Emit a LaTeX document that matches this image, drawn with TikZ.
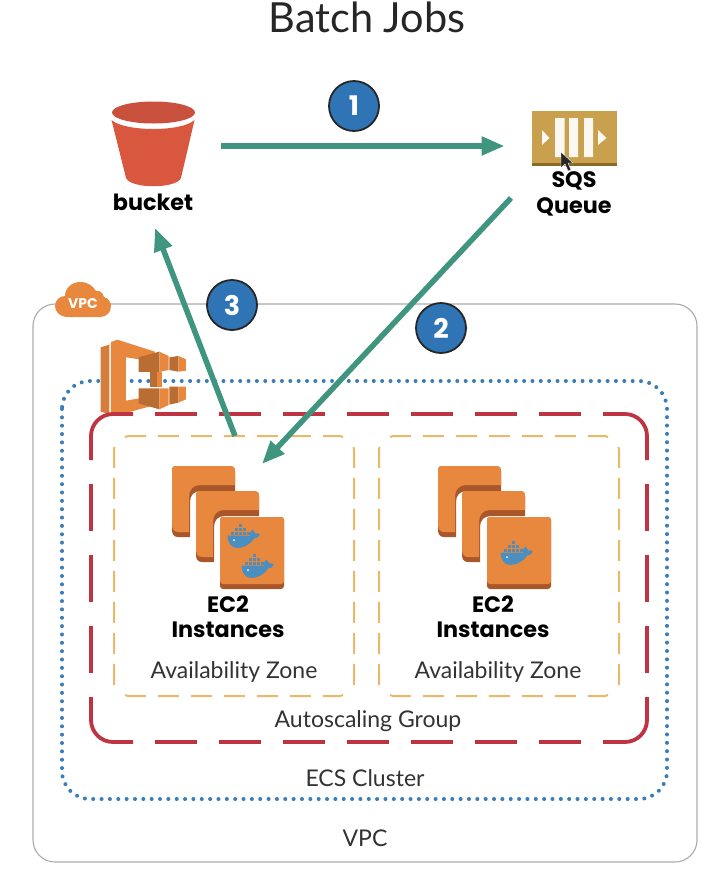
\documentclass[tikz,border=0pt]{standalone}
\usepackage{fontspec}
\setmainfont{Lato}
\newfontfamily\boldlab{Poppins}[UprightFont=* Bold]
\usetikzlibrary{arrows.meta,calc}
\definecolor{flow}{HTML}{3F9580}
\definecolor{numblue}{HTML}{2F75B5}
\definecolor{dotblue}{HTML}{3A7DB8}
\definecolor{asgred}{HTML}{BE3442}
\definecolor{azgold}{HTML}{E9B868}
\definecolor{ec2or}{HTML}{E8883F}
\definecolor{ec2dk}{HTML}{A8562A}
\definecolor{sqsgold}{HTML}{C9A14E}
\definecolor{sqsdk}{HTML}{8A6A25}
\definecolor{bkt}{HTML}{D9573F}
\definecolor{bktdk}{HTML}{C8503D}
\definecolor{whale}{HTML}{4A8FC0}
\definecolor{graybox}{HTML}{ABABAB}
\tikzset{
  vpcbox/.style={draw=graybox,line width=1.1pt,rounded corners=22pt},
  clusterbox/.style={draw=dotblue,line width=4pt,line cap=round,dash pattern=on 0pt off 8.35pt,rounded corners=28pt},
  asgedge/.style={draw=asgred,line width=3.8pt},
  asgcorner/.style={asgedge,rounded corners=22pt},
  asghoriz/.style={asgedge,dash pattern=on 42pt off 22pt},
  asgvert/.style={asgedge,dash pattern=on 47pt off 24pt},
  azhoriz/.style={draw=azgold,line width=2pt,dash pattern=on 21pt off 12pt},
  azvert/.style={draw=azgold,line width=2pt,dash pattern=on 21pt off 10pt},
  flowarrow/.style={draw=flow,line width=5.5pt,-{Triangle[length=23pt,width=18pt]}},
  numcircle/.style={circle,draw=black!85,line width=1.8pt,fill=numblue,minimum size=50pt,inner sep=0pt,text=white,font=\boldlab\fontsize{27}{27}\selectfont},
  boldtext/.style={font=\boldlab\fontsize{22.3}{22.3}\selectfont,text=black,inner sep=0pt},
  plaintext/.style={font=\fontsize{23}{23}\selectfont,text=black!80,inner sep=0pt},
  titletext/.style={font=\fontsize{41.5}{41.5}\selectfont,text=black!85,inner sep=0pt},
  iconspot/.style={inner sep=0pt,minimum size=0pt}
}
% Availability Zone frame, #1 = horizontal offset
\newcommand{\azframe}[1]{%
  \begin{scope}[shift={(#1,0)}]
    \draw[azhoriz] (125,437) -- (128,436) -- (340,436) -- (343,437);
    \draw[azhoriz] (125,695) -- (128,696) -- (340,696) -- (343,695);
    \draw[azvert] (114.5,447) -- (114,450) -- (114,682) .. controls (114,686) and (115,689) .. (118,692);
    \draw[azvert] (353.5,447) -- (354,450) -- (354,682) .. controls (354,686) and (353,689) .. (350,692);
  \end{scope}
}
% L-shaped back card, origin at its top left corner
\newcommand{\backcard}[2]{%
  \fill[ec2dk] (#1+4,#2) -- (#1+59,#2) .. controls (#1+62,#2) and (#1+63,#2+2) .. (#1+63,#2+5) -- (#1+63,#2+25) -- (#1+29,#2+25) .. controls (#1+22,#2+25) and (#1+18,#2+29) .. (#1+18,#2+36) -- (#1+18,#2+71) -- (#1+6,#2+71) .. controls (#1+2,#2+71) and (#1,#2+68) .. (#1,#2+64) -- (#1,#2+4) .. controls (#1,#2+1) and (#1+1,#2) .. (#1+4,#2) -- cycle;
  \fill[ec2or] (#1+4,#2) -- (#1+59,#2) .. controls (#1+62,#2) and (#1+63,#2+2) .. (#1+63,#2+5) -- (#1+63,#2+19) -- (#1+28,#2+19) .. controls (#1+21,#2+19) and (#1+17,#2+24) .. (#1+17,#2+31) -- (#1+17,#2+66) -- (#1+6,#2+66) .. controls (#1+2,#2+66) and (#1,#2+63) .. (#1,#2+60) -- (#1,#2+4) .. controls (#1,#2+1) and (#1+1,#2) .. (#1+4,#2) -- cycle;
}
% front card, origin at its top left corner
\newcommand{\frontcard}[2]{%
  \fill[ec2dk,rounded corners=3pt] (#1,#2) rectangle (#1+64,#2+72);
  \fill[ec2or,rounded corners=3pt] (#1,#2) rectangle (#1+64,#2+67);
}
% docker whale, origin at top left of a 33x25 box
\newcommand{\dockerwhale}[2]{%
  \begin{scope}[shift={(#1,#2)}]
    \fill[whale] (0.5,12.5) -- (23,12.5) .. controls (22.5,10) and (23.5,8) .. (25.5,6.5) .. controls (27,8) and (28,9.5) .. (28,10.5) .. controls (30,10) and (32,10.5) .. (33,11.5) .. controls (32,14) and (29.5,15.5) .. (27,15.5) .. controls (23,22) and (16,25) .. (10,25) .. controls (4,25) and (0.5,19) .. (0.5,12.5) -- cycle;
    \foreach \cx/\cy in {4/8.6,8/8.6,12/8.6,16/8.6,20/8.6,8/4.6,12/4.6,16/4.6,12/0.6}
      \fill[whale!70!gray] (\cx,\cy) rectangle ++(3.3,3.3);
    \fill[white] (7,17) circle[radius=1pt];
  \end{scope}
}
\begin{document}
\begin{tikzpicture}[x=1pt,y=-1pt]
\useasboundingbox (0,0) rectangle (722,892);
\fill[white] (0,0) rectangle (722,892);

% title
\node[titletext] (title) at (367,17) {Batch Jobs};

% outer frames
\draw[vpcbox] (33,304) rectangle (697,862);
\draw[clusterbox] (62,381) rectangle (667,799);

% VPC cloud
\fill[ec2or] (68,317) .. controls (60,317) and (55,312) .. (55,306) .. controls (55,300) and (60,296) .. (65,296) .. controls (65,288) and (72,282) .. (80,282) .. controls (88,282) and (93,286) .. (96,291) .. controls (100,290) and (103,293) .. (104,297) .. controls (108,298) and (111,302) .. (111,306) .. controls (111,312) and (107,317) .. (100,317) -- cycle;
\node[font=\boldlab\fontsize{14}{14}\selectfont,text=white,inner sep=0pt] (vpctag) at (83,304) {VPC};

% ECS icon
\begin{scope}[shift={(40,270)},x=0.3333pt,y=-0.3333pt]
  \fill[ec2or!92!black] (182,232) -- (208,224) -- (208,432) -- (182,425) -- cycle;
  \fill[ec2or] (213,216) -- (232,209) -- (345,245) -- (345,262) -- (298,268) -- (258,262) -- (258,392) -- (298,385) -- (345,400) -- (345,405) -- (232,436) -- (213,430) -- cycle;
  \fill[ec2or!80!black] (296,262) -- (358,245) -- (358,306) -- (296,306) -- cycle;
  \fill[ec2or] (358,245) -- (386,258) -- (386,300) -- (358,306) -- cycle;
  \fill[ec2or!80!black] (388,262) -- (415,258) -- (415,305) -- (388,300) -- cycle;
  \fill[ec2or] (415,258) -- (438,268) -- (438,302) -- (415,305) -- cycle;
  \fill[ec2or!80!black] (330,306) -- (350,306) -- (350,350) -- (330,350) -- cycle;
  \fill[ec2or] (350,306) -- (366,306) -- (366,350) -- (350,350) -- cycle;
  \fill[ec2or!80!black] (296,355) -- (358,355) -- (358,418) -- (296,400) -- cycle;
  \fill[ec2or] (358,355) -- (386,355) -- (386,405) -- (358,418) -- cycle;
  \fill[ec2or!80!black] (388,350) -- (415,350) -- (415,398) -- (388,404) -- cycle;
  \fill[ec2or] (415,350) -- (438,350) -- (438,388) -- (415,398) -- cycle;
\end{scope}

% Autoscaling Group frame
\draw[asgcorner] (133,414) -- (91,414) -- (91,460);
\draw[asgcorner] (603,414) -- (647,414) -- (647,460);
\draw[asgcorner] (133,742) -- (91,742) -- (91,697);
\draw[asgcorner] (603,742) -- (647,742) -- (647,697);
\draw[asghoriz] (155,414) -- (582,414);
\draw[asghoriz] (155,742) -- (582,742);
\draw[asgvert] (91,484) -- (91,673);
\draw[asgvert] (647,484) -- (647,673);

% Availability Zone frames
\azframe{0}
\azframe{265}

% bucket icon
\fill[bkt] (111.5,120) .. controls (125,132) and (182,132) .. (194.5,120) -- (181,178) .. controls (176,189) and (131,189) .. (126,178) -- cycle;
\draw[white,line width=2pt] (111,118) .. controls (125,129) and (181,129) .. (195,118);
\fill[bktdk] (153.5,112.5) ellipse[x radius=41.5pt,y radius=11pt];
\node[iconspot] (bucketicon) at (153,146) {};
\node[boldtext] (bucketlab) at (153,202) {bucket};

% SQS icon
\fill[sqsgold] (532,111) rectangle (617,166);
\fill[sqsdk] (532,163) rectangle (617,166);
\fill[white!92!sqsgold] (555,118) rectangle (564.5,157) (569,118) rectangle (578,157) (584,118) rectangle (593,157);
\fill[white!92!sqsgold] (542,130) -- (549.5,138) -- (542,145) -- cycle (598,130) -- (606.5,138) -- (598,145) -- cycle;
\node[iconspot] (sqsicon) at (574.5,138) {};
\node[boldtext] (sqslab1) at (574,181) {SQS};
\node[boldtext] (sqslab2) at (574,207) {Queue};
% mouse pointer
\fill[black!85,draw=white,line width=0.4pt] (561,152) -- (561,168) -- (565,164) -- (568,171) -- (571,170) -- (568,163) -- (573,163) -- cycle;

% EC2 stacks
\backcard{172}{466}
\backcard{196}{491}
\frontcard{220}{517}
\dockerwhale{227}{523}
\dockerwhale{241}{553}
\node[boldtext] (ecaa) at (228,604) {EC2};
\node[boldtext] (ecab) at (228,630) {Instances};

\backcard{438}{466}
\backcard{462}{491}
\frontcard{487}{517}
\dockerwhale{500}{540}
\node[boldtext] (ecba) at (493,604) {EC2};
\node[boldtext] (ecbb) at (493,630) {Instances};

% frame labels
\node[plaintext] (azone1) at (234,672) {Availability Zone};
\node[plaintext] (azone2) at (498,672) {Availability Zone};
\node[plaintext] (asglab) at (368,721) {Autoscaling Group};
\node[plaintext] (ecslab) at (365,778) {ECS Cluster};
\node[plaintext] (vpclab) at (365,838) {VPC};

% connector ends
\coordinate (bucketout) at ($(bucketicon)+(68,0)$);
\coordinate (sqsin) at ($(sqsicon)+(-70,8)$);
\coordinate (sqsout) at (511,198);
\coordinate (ec2in) at (262,464);
\coordinate (ec2out) at (235,436);
\coordinate (bucketin) at (155,228);

% connectors
\draw[flowarrow] (bucketout) -- (sqsin);
\draw[flowarrow] (sqsout) -- (ec2in);
\draw[flowarrow] (ec2out) -- (bucketin);

% numbered badges
\node[numcircle] (n1) at (354,106) {1};
\node[numcircle] (n2) at (441,328) {2};
\node[numcircle] (n3) at (232,305) {3};
\end{tikzpicture}
\end{document}
